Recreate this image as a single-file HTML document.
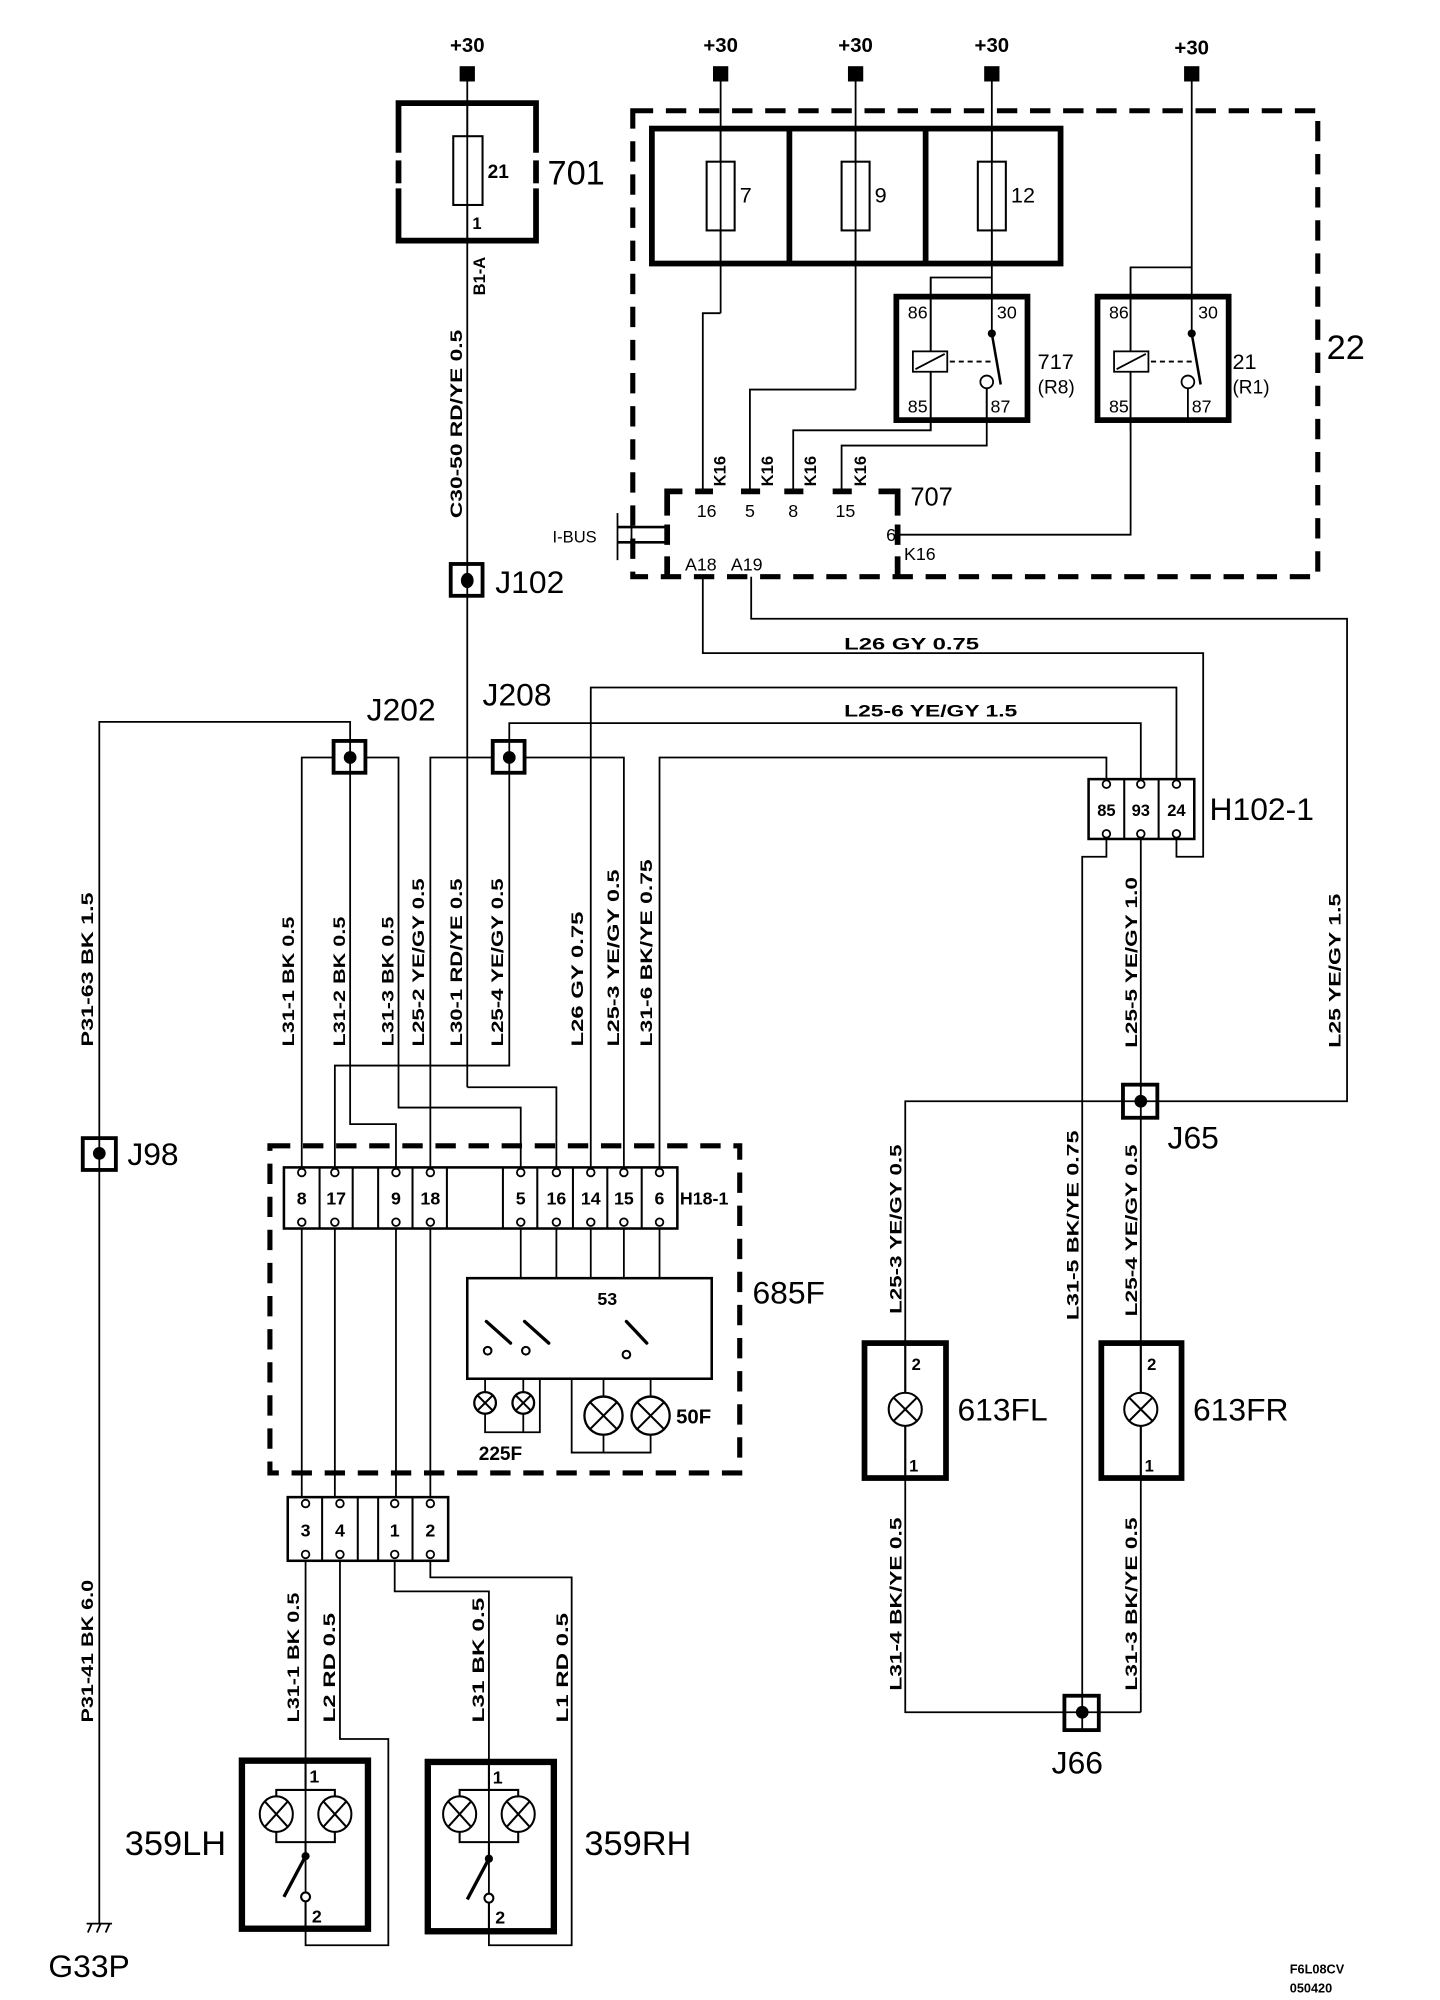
<!DOCTYPE html>
<html><head><meta charset="utf-8"><style>
html,body{margin:0;padding:0;background:#fff;}
svg{display:block;}
text{font-family:"Liberation Sans",sans-serif;fill:#000;}
.b{font-weight:bold;}
</style></head><body>
<svg width="1440" height="2000" viewBox="0 0 1131 1571" preserveAspectRatio="none" xmlns="http://www.w3.org/2000/svg">
<rect x="0" y="0" width="1131" height="1571" fill="#fff"/>
<g stroke="#000" fill="none" stroke-width="1.4">
<!-- 701 -->
<line x1="367" y1="58" x2="367" y2="854"/>
<path d="M367 854 H437 V921"/>
<!-- fuse block wires -->
<line x1="566" y1="58" x2="566" y2="246"/><path d="M566 246 H552 V386"/>
<line x1="672" y1="58" x2="672" y2="306"/><path d="M672 306 H589 V386"/>
<line x1="779" y1="58" x2="779" y2="262"/>
<path d="M779 218 H731 V338 H623 V386"/>
<path d="M775 305 V350 H661 V386"/>
<line x1="936" y1="58" x2="936" y2="262"/>
<path d="M936 210 H888 V420 H705"/>
<!-- A18/A19 -->
<path d="M552 453 V513 H945 V673 H924 V654"/>
<path d="M590 453 V486 H1058 V865 H896"/>
<!-- top bus lines -->
<path d="M464 921 V540 H924 V615"/>
<path d="M400 595 V568 H896 V615"/>
<path d="M518 921 V595 H869 V615"/>
<!-- J202 / J208 -->
<path d="M275 595 V567 H78 V1511"/>
<path d="M237 1176 V595 H313 V870 H409 V921"/>
<path d="M275 595 V883 H311 V921"/>
<path d="M338 1176 V595 H490 V921"/>
<path d="M400 595 V837 H263 V1176"/>
<line x1="311" y1="960" x2="311" y2="1176"/>
<line x1="409" y1="960" x2="409" y2="1004"/>
<line x1="437" y1="960" x2="437" y2="1004"/>
<line x1="464" y1="960" x2="464" y2="1004"/>
<line x1="490" y1="960" x2="490" y2="1004"/>
<line x1="518" y1="960" x2="518" y2="1004"/>
<!-- 225F / 50F -->
<path d="M381 1083 V1125 H424 V1083"/><line x1="411" y1="1083" x2="411" y2="1125"/>
<path d="M449 1083 V1141 H511 V1083"/><line x1="474" y1="1083" x2="474" y2="1141"/>
<!-- lower connectors -->
<path d="M240 1226 V1487"/>
<path d="M267 1226 V1366 H305 V1528 H240 V1493"/>
<path d="M310 1226 V1250 H384 V1487"/>
<path d="M338 1226 V1239 H449 V1528 H384 V1493"/>
<!-- right side -->
<path d="M869 654 V673 H850 V1345"/>
<line x1="896" y1="654" x2="896" y2="1345"/>
<path d="M896 865 H711 V1345 H896"/>
<!-- ground -->
<line x1="68" y1="1511" x2="88" y2="1511"/>
<line x1="72" y1="1511" x2="69" y2="1518"/><line x1="79" y1="1511" x2="76" y2="1518"/><line x1="86" y1="1511" x2="83" y2="1518"/>
</g>

<!-- +30 terminals -->
<g fill="#000">
<rect x="361" y="52" width="12" height="12"/><rect x="560" y="52" width="12" height="12"/>
<rect x="666" y="52" width="12" height="12"/><rect x="773" y="52" width="12" height="12"/>
<rect x="930" y="52" width="12" height="12"/>
</g>
<g class="b" font-size="16" text-anchor="middle">
<text x="367" y="41">+30</text><text x="566" y="41">+30</text><text x="672" y="41">+30</text>
<text x="779" y="41">+30</text><text x="936" y="43">+30</text>
</g>

<!-- 701 box -->
<g stroke="#000" stroke-width="4.5" fill="none">
<path d="M313 120 V81 H421 V120"/><path d="M313 126 V144"/><path d="M421 126 V144"/>
<path d="M313 148 V189 H421 V148"/>
</g>
<rect x="356" y="107" width="23" height="54" fill="#fff" stroke="#000" stroke-width="1.6"/>
<line x1="367" y1="80" x2="367" y2="190" stroke="#000" stroke-width="1.4"/>
<text x="383" y="140" class="b" font-size="15">21</text>
<text x="371" y="180" class="b" font-size="13">1</text>
<text x="430" y="145" font-size="27">701</text>

<!-- block 22 -->
<rect x="497" y="87" width="538" height="366" fill="none" stroke="#000" stroke-width="4" stroke-dasharray="16,10"/>
<g stroke="#000" stroke-width="4.5" fill="none">
<rect x="512" y="101" width="321" height="106"/>
<line x1="620" y1="101" x2="620" y2="207"/><line x1="727" y1="101" x2="727" y2="207"/>
</g>
<g fill="#fff" stroke="#000" stroke-width="1.6">
<rect x="555" y="127" width="22" height="54"/><rect x="661" y="127" width="22" height="54"/><rect x="768" y="127" width="22" height="54"/>
</g>
<g stroke="#000" stroke-width="1.4">
<line x1="566" y1="100" x2="566" y2="208"/><line x1="672" y1="100" x2="672" y2="208"/><line x1="779" y1="100" x2="779" y2="208"/>
</g>
<g font-size="17"><text x="581" y="159">7</text><text x="687" y="159">9</text><text x="794" y="159">12</text></g>

<!-- relays -->
<g stroke="#000" stroke-width="4.5" fill="none">
<rect x="704" y="233" width="103" height="97"/>
<rect x="862" y="233" width="103" height="97"/>
</g>
<g stroke="#000" stroke-width="1.4" fill="none">
<line x1="731" y1="218" x2="731" y2="338"/><line x1="775" y1="305" x2="775" y2="332"/>
<line x1="888" y1="210" x2="888" y2="338"/><line x1="933" y1="305" x2="933" y2="332"/>
<rect x="717" y="276" width="27" height="16" fill="#fff"/><line x1="719" y1="290" x2="742" y2="278"/>
<rect x="875" y="276" width="27" height="16" fill="#fff"/><line x1="877" y1="290" x2="900" y2="278"/>
<line x1="746" y1="284" x2="779" y2="284" stroke-dasharray="4,3"/>
<line x1="904" y1="284" x2="937" y2="284" stroke-dasharray="4,3"/>
<line x1="779" y1="262" x2="786" y2="302" stroke-width="2"/>
<line x1="936" y1="262" x2="943" y2="302" stroke-width="2"/>
<circle cx="775" cy="300" r="5" fill="#fff"/><circle cx="933" cy="300" r="5" fill="#fff"/>
</g>
<circle cx="779" cy="262" r="3.2"/><circle cx="936" cy="262" r="3.2"/>
<g font-size="14">
<text x="713" y="250">86</text><text x="783" y="250">30</text><text x="713" y="324">85</text><text x="778" y="324">87</text>
<text x="871" y="250">86</text><text x="941" y="250">30</text><text x="871" y="324">85</text><text x="936" y="324">87</text>
</g>
<text x="815" y="290" font-size="17">717</text><text x="815" y="309" font-size="15">(R8)</text>
<text x="968" y="290" font-size="17">21</text><text x="968" y="309" font-size="15">(R1)</text>
<text x="1042" y="282" font-size="27">22</text>

<!-- 707 -->
<g stroke="#000" stroke-width="4.5" fill="none">
<path d="M524 405 V386 H536"/><path d="M546 386 H560"/><path d="M582 386 H597"/><path d="M616 386 H631"/><path d="M654 386 H669"/><path d="M690 386 H705 V405"/>
<path d="M524 412 V428"/>
<path d="M524 437 V453"/>
<path d="M705 412 V428"/>
<path d="M705 437 V453"/>
</g>
<g stroke="#000" stroke-width="1.4">
<line x1="485" y1="403" x2="485" y2="440"/><line x1="496" y1="406" x2="496" y2="436"/>
<line x1="485" y1="414" x2="524" y2="414" stroke-width="2"/><line x1="485" y1="426" x2="524" y2="426" stroke-width="2"/>
</g>
<text x="434" y="426" font-size="13">I-BUS</text>
<g font-size="14" text-anchor="middle"><text x="555" y="406">16</text><text x="589" y="406">5</text><text x="623" y="406">8</text><text x="664" y="406">15</text></g>
<text x="715" y="397" font-size="20">707</text>
<text x="696" y="425" font-size="14">6</text><text x="710" y="440" font-size="14">K16</text>
<text x="538" y="448" font-size="14">A18</text><text x="574" y="448" font-size="14">A19</text>
<g class="b" font-size="13">
<text transform="translate(570,382) rotate(-90)">K16</text>
<text transform="translate(607,382) rotate(-90)">K16</text>
<text transform="translate(641,382) rotate(-90)">K16</text>
<text transform="translate(680,382) rotate(-90)">K16</text>
</g>

<!-- junctions -->
<g stroke="#000" stroke-width="3" fill="#fff">
<rect x="354" y="443" width="25" height="25"/>
<rect x="262" y="582" width="25" height="25"/>
<rect x="387" y="582" width="25" height="25"/>
<rect x="65" y="894" width="26" height="25"/>
<rect x="882" y="852" width="27" height="26"/>
<rect x="836" y="1332" width="27" height="27"/>
</g>
<g fill="#000">
<ellipse cx="367" cy="456" rx="5" ry="6"/><circle cx="275" cy="595" r="5"/><circle cx="400" cy="595" r="5"/>
<circle cx="78" cy="906" r="5"/><circle cx="896" cy="865" r="5"/><circle cx="850" cy="1345" r="5"/>
</g>
<g stroke="#000" stroke-width="1.4">
<line x1="367" y1="443" x2="367" y2="468"/><line x1="275" y1="582" x2="275" y2="607"/><line x1="400" y1="582" x2="400" y2="607"/>
<line x1="78" y1="894" x2="78" y2="919"/><line x1="882" y1="865" x2="909" y2="865"/><line x1="896" y1="852" x2="896" y2="878"/>
<line x1="850" y1="1332" x2="850" y2="1359"/><line x1="836" y1="1345" x2="863" y2="1345"/>
</g>
<g font-size="25">
<text x="389" y="466">J102</text><text x="288" y="566">J202</text><text x="379" y="554">J208</text>
<text x="100" y="915">J98</text><text x="917" y="902">J65</text><text x="826" y="1393">J66</text>
</g>

<!-- H18-1 / 685F -->
<rect x="212" y="900" width="369" height="257" fill="none" stroke="#000" stroke-width="4" stroke-dasharray="16,10"/>
<rect x="223" y="917" width="309" height="48" fill="#fff" stroke="#000" stroke-width="2"/>
<g stroke="#000" stroke-width="1.6">
<line x1="251" y1="917" x2="251" y2="965"/><line x1="277" y1="917" x2="277" y2="965"/><line x1="297" y1="917" x2="297" y2="965"/>
<line x1="324" y1="917" x2="324" y2="965"/><line x1="351" y1="917" x2="351" y2="965"/><line x1="395" y1="917" x2="395" y2="965"/>
<line x1="422" y1="917" x2="422" y2="965"/><line x1="450" y1="917" x2="450" y2="965"/><line x1="477" y1="917" x2="477" y2="965"/>
<line x1="504" y1="917" x2="504" y2="965"/>
</g>
<g fill="#fff" stroke="#000" stroke-width="1.4">
<circle cx="237" cy="921" r="3"/><circle cx="263" cy="921" r="3"/><circle cx="311" cy="921" r="3"/><circle cx="338" cy="921" r="3"/>
<circle cx="409" cy="921" r="3"/><circle cx="437" cy="921" r="3"/><circle cx="464" cy="921" r="3"/><circle cx="490" cy="921" r="3"/><circle cx="518" cy="921" r="3"/>
<circle cx="237" cy="960" r="3"/><circle cx="263" cy="960" r="3"/><circle cx="311" cy="960" r="3"/><circle cx="338" cy="960" r="3"/>
<circle cx="409" cy="960" r="3"/><circle cx="437" cy="960" r="3"/><circle cx="464" cy="960" r="3"/><circle cx="490" cy="960" r="3"/><circle cx="518" cy="960" r="3"/>
</g>
<g class="b" font-size="14" text-anchor="middle">
<text x="237" y="946">8</text><text x="264" y="946">17</text><text x="311" y="946">9</text><text x="338" y="946">18</text>
<text x="409" y="946">5</text><text x="437" y="946">16</text><text x="464" y="946">14</text><text x="490" y="946">15</text><text x="518" y="946">6</text>
</g>
<text x="534" y="946" class="b" font-size="14">H18-1</text>
<text x="591" y="1024" font-size="25">685F</text>
<rect x="367" y="1004" width="192" height="79" fill="#fff" stroke="#000" stroke-width="2"/>
<text x="477" y="1025" class="b" font-size="14" text-anchor="middle">53</text>
<g stroke="#000" stroke-width="2.6" stroke-linecap="round">
<line x1="382" y1="1038" x2="401" y2="1055"/><line x1="412" y1="1038" x2="431" y2="1055"/><line x1="492" y1="1038" x2="508" y2="1055"/>
</g>
<g fill="#fff" stroke="#000" stroke-width="1.6">
<circle cx="383" cy="1061" r="3"/><circle cx="413" cy="1061" r="3"/><circle cx="492" cy="1064" r="3"/>
</g>
<g fill="#fff" stroke="#000" stroke-width="1.8">
<circle cx="381" cy="1102" r="8.5"/><circle cx="411" cy="1102" r="8.5"/>
<circle cx="474" cy="1112" r="15"/><circle cx="511" cy="1112" r="15"/>
</g>
<g stroke="#000" stroke-width="1.6">
<line x1="375" y1="1096" x2="387" y2="1108"/><line x1="387" y1="1096" x2="375" y2="1108"/>
<line x1="405" y1="1096" x2="417" y2="1108"/><line x1="417" y1="1096" x2="405" y2="1108"/>
<line x1="463" y1="1101" x2="485" y2="1123"/><line x1="485" y1="1101" x2="463" y2="1123"/>
<line x1="500" y1="1101" x2="522" y2="1123"/><line x1="522" y1="1101" x2="500" y2="1123"/>
</g>
<text x="376" y="1147" class="b" font-size="15">225F</text>
<text x="531" y="1118" class="b" font-size="16">50F</text>

<!-- lower connector -->
<rect x="226" y="1176" width="126" height="50" fill="#fff" stroke="#000" stroke-width="2"/>
<g stroke="#000" stroke-width="1.6">
<line x1="253" y1="1176" x2="253" y2="1226"/><line x1="281" y1="1176" x2="281" y2="1226"/>
<line x1="297" y1="1176" x2="297" y2="1226"/><line x1="324" y1="1176" x2="324" y2="1226"/>
</g>
<g fill="#fff" stroke="#000" stroke-width="1.4">
<circle cx="240" cy="1181" r="3"/><circle cx="267" cy="1181" r="3"/><circle cx="310" cy="1181" r="3"/><circle cx="338" cy="1181" r="3"/>
<circle cx="240" cy="1221" r="3"/><circle cx="267" cy="1221" r="3"/><circle cx="310" cy="1221" r="3"/><circle cx="338" cy="1221" r="3"/>
</g>
<g class="b" font-size="14" text-anchor="middle">
<text x="240" y="1207">3</text><text x="267" y="1207">4</text><text x="310" y="1207">1</text><text x="338" y="1207">2</text>
</g>

<!-- 359LH / 359RH -->
<g stroke="#000" stroke-width="5" fill="none">
<rect x="190" y="1383" width="99" height="132"/>
<rect x="336" y="1384" width="99" height="133"/>
</g>
<g stroke="#000" stroke-width="1.6" fill="none">
<path d="M240 1383 V1406"/><path d="M217 1412 V1406 H263 V1412"/><path d="M217 1439 V1447 H263 V1439"/><path d="M240 1447 V1458"/>
<path d="M384 1384 V1406"/><path d="M361 1412 V1406 H407 V1412"/><path d="M361 1439 V1447 H407 V1439"/><path d="M384 1447 V1458"/>
<ellipse cx="217" cy="1425" rx="13" ry="14" fill="#fff"/><ellipse cx="263" cy="1425" rx="13" ry="14" fill="#fff"/>
<ellipse cx="361" cy="1425" rx="13" ry="14" fill="#fff"/><ellipse cx="407" cy="1425" rx="13" ry="14" fill="#fff"/>
<line x1="208" y1="1415" x2="226" y2="1435"/><line x1="226" y1="1415" x2="208" y2="1435"/>
<line x1="254" y1="1415" x2="272" y2="1435"/><line x1="272" y1="1415" x2="254" y2="1435"/>
<line x1="352" y1="1415" x2="370" y2="1435"/><line x1="370" y1="1415" x2="352" y2="1435"/>
<line x1="398" y1="1415" x2="416" y2="1435"/><line x1="416" y1="1415" x2="398" y2="1435"/>
<line x1="240" y1="1458" x2="223" y2="1490" stroke-width="2.6"/>
<line x1="384" y1="1460" x2="367" y2="1492" stroke-width="2.6"/>
<circle cx="240" cy="1490" r="3.5" fill="#fff"/><circle cx="384" cy="1491" r="3.5" fill="#fff"/>
<line x1="240" y1="1494" x2="240" y2="1515"/><line x1="384" y1="1495" x2="384" y2="1517"/>
</g>
<circle cx="240" cy="1458" r="3.2"/><circle cx="384" cy="1460" r="3.2"/>
<g class="b" font-size="14"><text x="243" y="1400">1</text><text x="387" y="1401">1</text><text x="245" y="1510">2</text><text x="389" y="1511">2</text></g>
<text x="98" y="1457" font-size="27">359LH</text>
<text x="459" y="1457" font-size="27">359RH</text>
<text x="38" y="1553" font-size="25">G33P</text>

<!-- H102-1 -->
<rect x="855" y="612" width="83" height="47" fill="#fff" stroke="#000" stroke-width="2"/>
<g stroke="#000" stroke-width="1.6"><line x1="883" y1="612" x2="883" y2="659"/><line x1="910" y1="612" x2="910" y2="659"/></g>
<g fill="#fff" stroke="#000" stroke-width="1.4">
<circle cx="869" cy="616" r="3"/><circle cx="896" cy="616" r="3"/><circle cx="924" cy="616" r="3"/>
<circle cx="869" cy="655" r="3"/><circle cx="896" cy="655" r="3"/><circle cx="924" cy="655" r="3"/>
</g>
<g class="b" font-size="13" text-anchor="middle"><text x="869" y="641">85</text><text x="896" y="641">93</text><text x="924" y="641">24</text></g>
<text x="950" y="644" font-size="25">H102-1</text>

<!-- 613FL / FR -->
<g stroke="#000" stroke-width="4.5" fill="none">
<rect x="679" y="1055" width="64" height="106"/>
<rect x="865" y="1055" width="63" height="106"/>
</g>
<g stroke="#000" stroke-width="1.6">
<circle cx="711" cy="1107" r="13" fill="#fff"/><circle cx="896" cy="1107" r="13" fill="#fff"/>
<line x1="702" y1="1098" x2="720" y2="1116"/><line x1="720" y1="1098" x2="702" y2="1116"/>
<line x1="887" y1="1098" x2="905" y2="1116"/><line x1="905" y1="1098" x2="887" y2="1116"/>
<line x1="711" y1="1055" x2="711" y2="1094"/><line x1="711" y1="1120" x2="711" y2="1161"/>
<line x1="896" y1="1055" x2="896" y2="1094"/><line x1="896" y1="1120" x2="896" y2="1161"/>
</g>
<g class="b" font-size="13"><text x="716" y="1076">2</text><text x="714" y="1156">1</text><text x="901" y="1076">2</text><text x="899" y="1156">1</text></g>
<text x="752" y="1116" font-size="25">613FL</text>
<text x="937" y="1116" font-size="25">613FR</text>

<!-- horizontal wire labels -->
<g class="b" font-size="13">
<text x="663" y="510" textLength="106" lengthAdjust="spacingAndGlyphs">L26  GY  0.75</text>
<text x="663" y="563" textLength="136" lengthAdjust="spacingAndGlyphs">L25-6  YE/GY  1.5</text>
</g>

<!-- rotated wire labels -->
<g class="b" font-size="13">
<text transform="translate(363,407) rotate(-90)" textLength="148" lengthAdjust="spacingAndGlyphs">C30-50  RD/YE  0.5</text>
<text transform="translate(381,232) rotate(-90)">B1-A</text>
<text transform="translate(73,822) rotate(-90)" textLength="121" lengthAdjust="spacingAndGlyphs">P31-63  BK  1.5</text>
<text transform="translate(231,822) rotate(-90)" textLength="102" lengthAdjust="spacingAndGlyphs">L31-1  BK 0.5</text>
<text transform="translate(271,822) rotate(-90)" textLength="102" lengthAdjust="spacingAndGlyphs">L31-2  BK 0.5</text>
<text transform="translate(309,822) rotate(-90)" textLength="102" lengthAdjust="spacingAndGlyphs">L31-3 BK  0.5</text>
<text transform="translate(333,822) rotate(-90)" textLength="132" lengthAdjust="spacingAndGlyphs">L25-2 YE/GY  0.5</text>
<text transform="translate(363,822) rotate(-90)" textLength="132" lengthAdjust="spacingAndGlyphs">L30-1 RD/YE  0.5</text>
<text transform="translate(395,822) rotate(-90)" textLength="132" lengthAdjust="spacingAndGlyphs">L25-4 YE/GY  0.5</text>
<text transform="translate(458,822) rotate(-90)" textLength="106" lengthAdjust="spacingAndGlyphs">L26  GY  0.75</text>
<text transform="translate(486,822) rotate(-90)" textLength="139" lengthAdjust="spacingAndGlyphs">L25-3  YE/GY  0.5</text>
<text transform="translate(512,822) rotate(-90)" textLength="147" lengthAdjust="spacingAndGlyphs">L31-6  BK/YE  0.75</text>
<text transform="translate(73,1353) rotate(-90)" textLength="112" lengthAdjust="spacingAndGlyphs">P31-41  BK  6.0</text>
<text transform="translate(235,1353) rotate(-90)" textLength="102" lengthAdjust="spacingAndGlyphs">L31-1 BK  0.5</text>
<text transform="translate(263,1353) rotate(-90)" textLength="86" lengthAdjust="spacingAndGlyphs">L2 RD  0.5</text>
<text transform="translate(380,1353) rotate(-90)" textLength="98" lengthAdjust="spacingAndGlyphs">L31 BK  0.5</text>
<text transform="translate(446,1353) rotate(-90)" textLength="86" lengthAdjust="spacingAndGlyphs">L1 RD  0.5</text>
<text transform="translate(708,1032) rotate(-90)" textLength="133" lengthAdjust="spacingAndGlyphs">L25-3  YE/GY 0.5</text>
<text transform="translate(847,1037) rotate(-90)" textLength="149" lengthAdjust="spacingAndGlyphs">L31-5  BK/YE  0.75</text>
<text transform="translate(893,1034) rotate(-90)" textLength="135" lengthAdjust="spacingAndGlyphs">L25-4  YE/GY  0.5</text>
<text transform="translate(893,823) rotate(-90)" textLength="134" lengthAdjust="spacingAndGlyphs">L25-5  YE/GY  1.0</text>
<text transform="translate(1053,823) rotate(-90)" textLength="121" lengthAdjust="spacingAndGlyphs">L25  YE/GY  1.5</text>
<text transform="translate(708,1328) rotate(-90)" textLength="136" lengthAdjust="spacingAndGlyphs">L31-4  BK/YE  0.5</text>
<text transform="translate(893,1328) rotate(-90)" textLength="136" lengthAdjust="spacingAndGlyphs">L31-3  BK/YE  0.5</text>
</g>
<g class="b" font-size="10"><text x="1013" y="1550">F6L08CV</text><text x="1013" y="1565">050420</text></g>
</svg>
</body></html>
